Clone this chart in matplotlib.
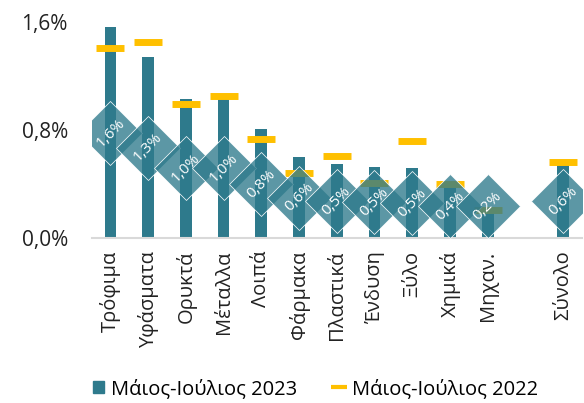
import numpy as np
import matplotlib.pyplot as plt
from matplotlib.colors import to_rgba
from matplotlib.patches import Patch
from matplotlib.lines import Line2D

plt.rcParams['font.family'] = ['Open Sans', 'DejaVu Sans']

categories = ['Τρόφιμα', 'Υφάσματα', 'Ορυκτά', 'Μέταλλα', 'Λοιπά', 'Φάρμακα',
              'Πλαστικά', 'Ένδυση', 'Ξύλο', 'Χημικά', 'Μηχαν.', 'Σύνολο']
may_jul_2023 = [1.56, 1.34, 1.03, 1.035, 0.805, 0.60, 0.548, 0.528, 0.519, 0.38, 0.207, 0.553]
may_jul_2022 = [1.405, 1.45, 0.99, 1.054, 0.73, 0.48, 0.61, 0.405, 0.72, 0.40, 0.21, 0.565]
labels_2023 = ['1,6%', '1,3%', '1,0%', '1,0%', '0,8%', '0,6%',
               '0,5%', '0,5%', '0,5%', '0,4%', '0,2%', '0,6%']

bar_color = '#2E7A8C'
gold = '#FFC000'

# empty slot before the total
x = np.array(list(range(11)) + [12])
v23 = np.array(may_jul_2023)
lab_y = np.maximum(v23 / 2, 0.235)

fig = plt.figure(figsize=(5.84, 4.03), dpi=100)
ax = fig.add_axes([0.1567, 0.4094, 0.8399, 0.5427])

ax.bar(x, v23, width=0.31, color=bar_color, zorder=2)
ax.plot(x, may_jul_2022, linestyle='none', marker='_', ms=20, mew=5,
        color=gold, zorder=3)
for i, (xi, yi, t) in enumerate(zip(x, lab_y, labels_2023)):
    ax.plot(xi, yi, linestyle='none', marker='D', ms=33, mew=0.5,
            mfc=to_rgba(bar_color, 0.78), mec='white', zorder=4 + i * 0.01)
    ax.text(xi, yi, t, rotation=45, ha='center', va='center', color='white',
            fontsize=11, rotation_mode='anchor', zorder=5)

ax.set_xlim(-0.5, 12.5)
ax.set_ylim(0, 1.62)
ax.set_yticks([0, 0.8, 1.6])
ax.set_yticklabels(['0,0%', '0,8%', '1,6%'], fontsize=15, color='#222222')
ax.set_xticks(x)
ax.set_xticklabels(categories, rotation=90, fontsize=14.5, color='#222222')
ax.tick_params(axis='both', length=0)
ax.tick_params(axis='y', pad=17)
ax.tick_params(axis='x', pad=9)

for s in ['top', 'right', 'left']:
    ax.spines[s].set_visible(False)
ax.spines['bottom'].set_color('#D9D9D9')
ax.spines['bottom'].set_linewidth(1.5)

handles = [Patch(color=bar_color, label='Μάιος-Ιούλιος 2023'),
           Line2D([], [], linestyle='none', marker='_', ms=11, mew=3, color=gold,
                  label='Μάιος-Ιούλιος 2022')]
fig.legend(handles=handles, loc='lower center', ncol=2, frameon=False,
           fontsize=14.5, bbox_to_anchor=(0.54, -0.035), handlelength=0.55,
           handleheight=0.55, handletextpad=0.35, columnspacing=1.8)

fig.savefig('out.png', dpi=100)
